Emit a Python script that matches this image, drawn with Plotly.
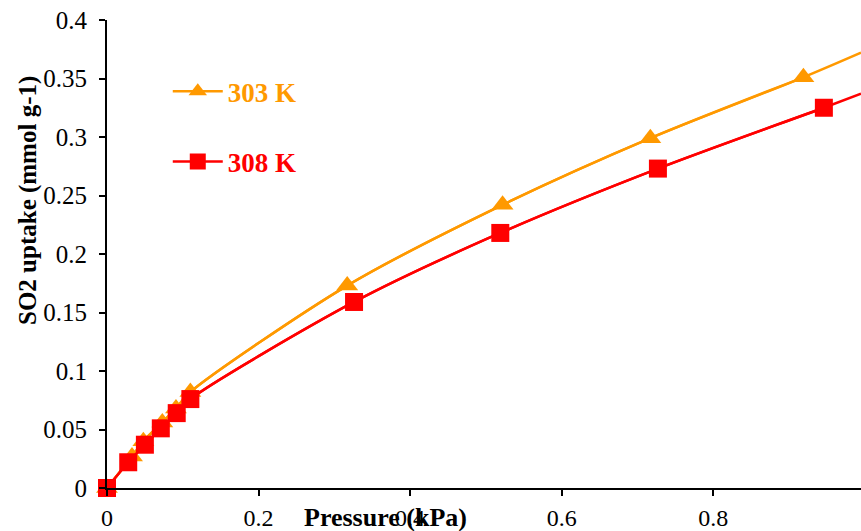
import plotly.graph_objects as go

# 303 K data (pressure kPa, uptake mmol/g)
p303 = [0, 0.033, 0.048, 0.073, 0.091, 0.110, 0.317, 0.522, 0.717, 0.919]
q303 = [0, 0.027, 0.040, 0.056, 0.068, 0.082, 0.173, 0.242, 0.299, 0.351]
# 308 K data
p308 = [0, 0.028, 0.050, 0.071, 0.092, 0.110, 0.326, 0.519, 0.727, 0.946]
q308 = [0, 0.022, 0.037, 0.051, 0.064, 0.076, 0.159, 0.218, 0.273, 0.325]
# fitted curve values read at the right edge of the visible plot
edge_p = 0.995
edge_q303 = 0.372
edge_q308 = 0.337

x_ticks = [0, 0.2, 0.4, 0.6, 0.8]
y_ticks = [0, 0.05, 0.1, 0.15, 0.2, 0.25, 0.3, 0.35, 0.4]
y_tick_text = ["0", "0.05", "0.1", "0.15", "0.2", "0.25", "0.3", "0.35", "0.4"]

ORANGE = "#FF9900"
RED = "#FF0000"
FONT = "Liberation Serif"

fig = go.Figure()
# smooth curves continuing to the plot edge
fig.add_trace(go.Scatter(x=p303 + [edge_p], y=q303 + [edge_q303], mode="lines",
                         line=dict(color=ORANGE, width=2.5, shape="spline", smoothing=0.8),
                         showlegend=False, hoverinfo="skip"))
fig.add_trace(go.Scatter(x=p308 + [edge_p], y=q308 + [edge_q308], mode="lines",
                         line=dict(color=RED, width=2.5, shape="spline", smoothing=0.8),
                         showlegend=False, hoverinfo="skip"))
# markers
fig.add_trace(go.Scatter(x=p303, y=q303, mode="markers+lines",
                         name=f"<b><span style='color:{ORANGE}'>303 K</span></b>",
                         line=dict(color=ORANGE, width=2.5, shape="spline", smoothing=0.8),
                         marker=dict(symbol="triangle-up", size=19, color=ORANGE),
                         legendgroup="a", cliponaxis=False))
fig.add_trace(go.Scatter(x=p308, y=q308, mode="markers+lines",
                         name=f"<b><span style='color:{RED}'>308 K</span></b>",
                         line=dict(color=RED, width=2.5, shape="spline", smoothing=0.8),
                         marker=dict(symbol="square", size=18, color=RED),
                         legendgroup="b", cliponaxis=False))

axis_common = dict(showline=True, linecolor="black", linewidth=2, showgrid=False,
                   zeroline=False, ticks="outside", ticklen=6, tickwidth=2, tickcolor="black",
                   automargin=False)

fig.update_xaxes(range=[0, edge_p], tickvals=x_ticks, ticktext=[str(v) for v in x_ticks],
                 ticklabelstandoff=1, tickfont=dict(family=FONT, size=24, color="black"),
                 **axis_common)
fig.update_yaxes(range=[0, 0.4], tickvals=y_ticks, ticktext=y_tick_text,
                 ticklabelstandoff=7, tickfont=dict(family=FONT, size=25, color="black"),
                 **axis_common)

fig.add_annotation(text="<b>SO2 uptake (mmol g-1)</b>", textangle=-90,
                   xref="paper", yref="paper", x=-0.105, y=0.615, showarrow=False,
                   xanchor="center", yanchor="middle",
                   font=dict(family=FONT, size=25, color="black"))
fig.add_annotation(text="<b>Pressure (kPa)</b>",
                   xref="paper", yref="paper", x=0.369, y=-0.062, showarrow=False,
                   xanchor="center", yanchor="middle",
                   font=dict(family=FONT, size=26, color="black"))

fig.update_layout(
    width=861, height=531,
    margin=dict(l=107, r=0, t=20, b=43),
    paper_bgcolor="white", plot_bgcolor="white",
    showlegend=True,
    legend=dict(x=0.0806, y=0.899, xanchor="left", yanchor="top",
                bgcolor="rgba(0,0,0,0)", traceorder="grouped", tracegroupgap=32,
                font=dict(family=FONT, size=27), itemwidth=50),
)

fig.write_html("out.html")
